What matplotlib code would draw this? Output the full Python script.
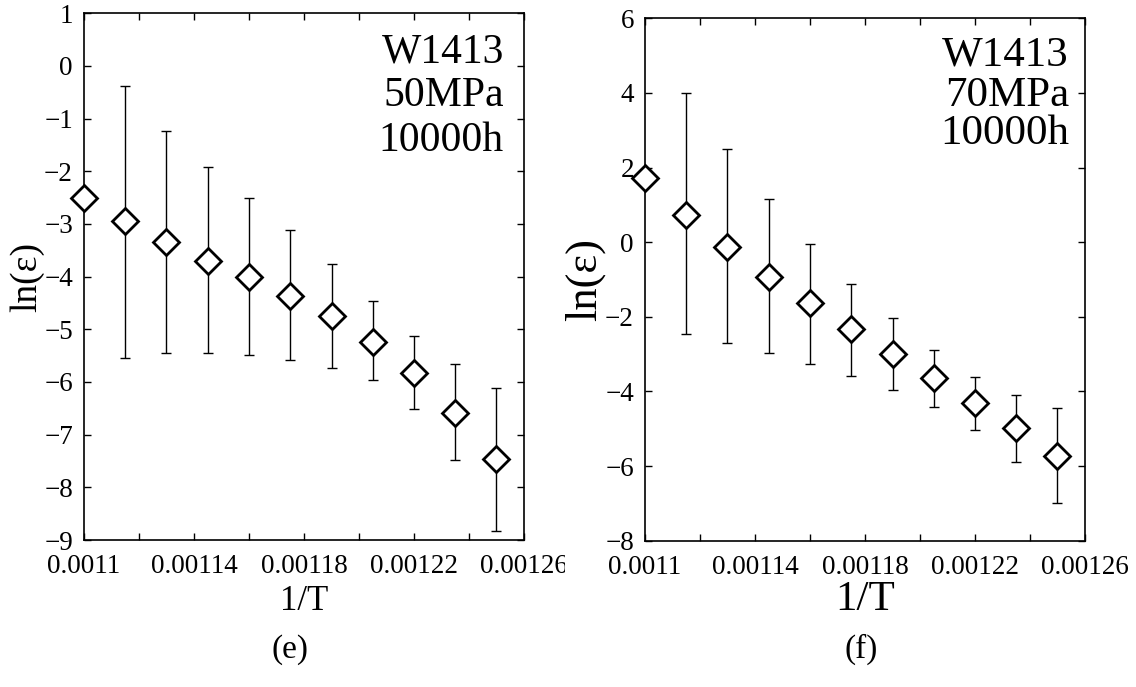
import matplotlib
matplotlib.use("Agg")
import matplotlib.pyplot as plt
import numpy as np
from matplotlib.ticker import MultipleLocator, FixedLocator, FuncFormatter
from matplotlib.transforms import Bbox, TransformedBbox

plt.rcParams['font.family'] = ['Liberation Serif', 'DejaVu Serif']
plt.rcParams['axes.unicode_minus'] = True

# ---------------- data ----------------
inv_T = [0.0011, 0.001115, 0.00113, 0.001145, 0.00116, 0.001175,
         0.00119, 0.001205, 0.00122, 0.001235, 0.00125]

# panel (e): W1413, 50 MPa, 10000 h
ln_eps_50 = [-2.50, -2.95, -3.35, -3.70, -4.00, -4.37, -4.75, -5.24, -5.83, -6.58, -7.47]
upper_50 = [-2.50, -0.38, -1.23, -1.92, -2.51, -3.11, -3.76, -4.47, -5.13, -5.65, -6.11]
lower_50 = [-2.50, -5.54, -5.45, -5.45, -5.48, -5.58, -5.73, -5.97, -6.51, -7.49, -8.83]

# panel (f): W1413, 70 MPa, 10000 h
ln_eps_70 = [1.71, 0.73, -0.12, -0.92, -1.64, -2.32, -2.99, -3.65, -4.31, -4.99, -5.74]
upper_70 = [1.71, 4.01, 2.50, 1.15, -0.05, -1.12, -2.02, -2.88, -3.61, -4.10, -4.44]
lower_70 = [1.71, -2.47, -2.70, -2.96, -3.27, -3.58, -3.95, -4.41, -5.02, -5.90, -6.99]

x_major_ticks = [0.0011, 0.00114, 0.00118, 0.00122, 0.00126]
x_minor_ticks = [0.00112, 0.00116, 0.0012, 0.00124]

labels_e = ["W1413", "50MPa", "10000h"]
labels_f = ["W1413", "70MPa", "10000h"]
x_label = "1/T"
y_label = "ln(\u03b5)"
captions = ["(e)", "(f)"]

W, H = 1136, 687
fig = plt.figure(figsize=(W / 100, H / 100), dpi=100)
fig.patch.set_facecolor('white')

ax1 = fig.add_axes([84 / W, 1 - 540 / H, 440 / W, 526.7 / H])
ax2 = fig.add_axes([645 / W, 1 - 540.7 / H, 440 / W, 522.4 / H])


def xfmt(v, pos):
    return f"{v:.5f}".rstrip('0')


def draw_panel(ax, y, lo, up, ylim, ystep, texts, text_x, text_ys, tfs,
               xlab_fs, xlab_pad, ylab_fs):
    y = np.asarray(y)
    err = [y - np.asarray(lo), np.asarray(up) - y]
    ax.errorbar(inv_T, y, yerr=err, fmt='none', ecolor='black',
                elinewidth=1.0, capsize=3.5, capthick=1.0, zorder=2)
    ax.plot(inv_T, y, linestyle='none', marker='D', markersize=13,
            markerfacecolor='white', markeredgecolor='black',
            markeredgewidth=2.0, clip_on=False, zorder=5)
    ax.set_xlim(0.0011, 0.00126)
    ax.set_ylim(*ylim)
    ax.xaxis.set_major_locator(FixedLocator(x_major_ticks))
    ax.xaxis.set_minor_locator(FixedLocator(x_minor_ticks))
    ax.xaxis.set_major_formatter(FuncFormatter(xfmt))
    ax.yaxis.set_major_locator(MultipleLocator(ystep))
    ax.tick_params(which='both', direction='in', top=True, right=True,
                   length=5, width=1.0, labelsize=19.5)
    ax.tick_params(axis='x', which='major', pad=10)
    ax.tick_params(axis='y', which='major', pad=8)
    for s in ax.spines.values():
        s.set_linewidth(1.2)
    ax.set_xlabel(x_label, fontsize=xlab_fs, labelpad=xlab_pad)
    ax.set_ylabel(y_label, fontsize=ylab_fs, labelpad=0)
    for t, ty, fs in zip(texts, text_ys, tfs):
        ax.text(text_x, ty, t, transform=ax.transAxes, ha='right',
                va='baseline', fontsize=fs)


draw_panel(ax1, ln_eps_50, lower_50, upper_50, (-9, 1), 1, labels_e,
           0.9545, [0.9075, 0.824, 0.7385], [30, 30, 30], 25, 4.5, 27)
draw_panel(ax2, ln_eps_70, lower_70, upper_70, (-8, 6), 2, labels_f,
           0.9636, [0.9087, 0.833, 0.7594], [31, 31, 31], 31, 0.5, 32)

fig.text(290 / W, 1 - 658 / H, captions[0], ha='center', va='baseline', fontsize=24)
fig.text(861 / W, 1 - 658 / H, captions[1], ha='center', va='baseline', fontsize=24)

# the left panel's last tick label is cut by the neighbouring panel
fig.canvas.draw()
clip = TransformedBbox(Bbox([[0, 0], [565 / W, 1]]), fig.transFigure)
for lab in ax1.get_xticklabels():
    lab.set_clip_on(True)
    lab.set_clip_box(clip)

fig.savefig("out.png", dpi=100, facecolor='white')
